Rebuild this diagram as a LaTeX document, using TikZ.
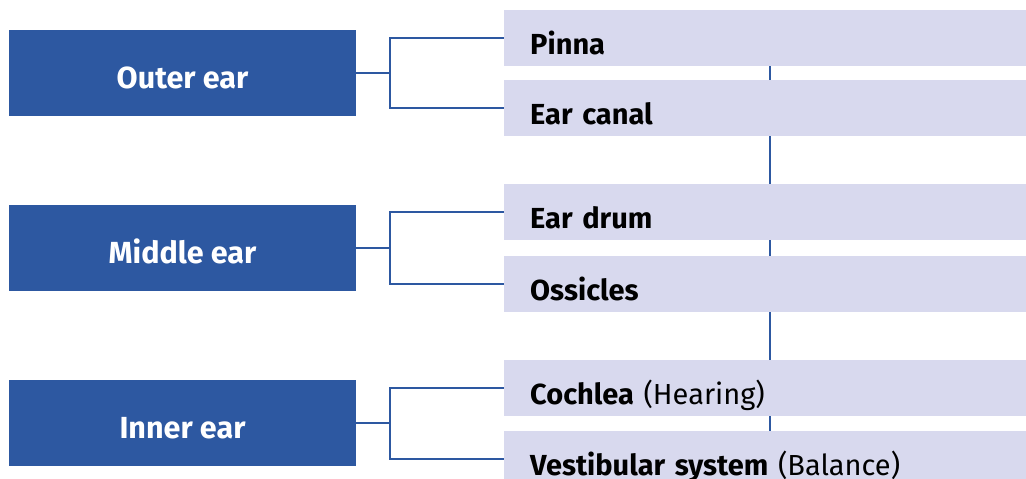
\documentclass[tikz,border=0pt]{standalone}
\usepackage{fontspec}
\setmainfont{Fira Sans}
\usepackage{tikz}
\usetikzlibrary{backgrounds}
\definecolor{earblue}{HTML}{2D58A1}
\definecolor{earlilac}{HTML}{D8D9EE}

\begin{document}
\begin{tikzpicture}[
  x=1pt,y=-1pt,
  every node/.style={font=\fontsize{29}{32}\selectfont},
  region/.style={fill=earblue,text=white,font=\fontsize{30.5}{33}\selectfont\bfseries,minimum width=347pt,inner sep=0pt,text height=58pt,text depth=28pt},
  part/.style={fill=earlilac,anchor=north west,inner xsep=26pt,inner ysep=0pt,text width=470pt,align=left,text height=44pt,text depth=12pt},
  link/.style={draw=earblue,line width=2pt}
]
  \clip (0,0) rectangle (1026,479);
  \node[region] (outer) at (182.5,73) {Outer ear};
  \node[region] (middle) at (182.5,248) {Middle ear};
  \node[region] (inner) at (182.5,423) {Inner ear};
  \node[part] (pinna) at (504,10) {\textbf{Pinna}};
  \node[part] (canal) at (504,80) {\textbf{Ear canal}};
  \node[part] (drum) at (504,184) {\textbf{Ear drum}};
  \node[part] (ossicles) at (504,256) {\textbf{Ossicles}};
  \node[part] (cochlea) at (504,360) {\textbf{Cochlea} (Hearing)};
  \node[part] (vestib) at (504,431) {\textbf{Vestibular system} (Balance)};
  % brackets
  \draw[link] (outer.east) -- ++(34,0) |- (pinna.west);
  \draw[link] (outer.east) -- ++(34,0) |- (canal.west);
  \draw[link] (middle.east) -- ++(34,0) |- (drum.west);
  \draw[link] (middle.east) -- ++(34,0) |- (ossicles.west);
  \draw[link] (inner.east) -- ++(34,0) |- (cochlea.west);
  \draw[link] (inner.east) -- ++(34,0) |- (vestib.west);
  % spine behind the parts
  \begin{scope}[on background layer]
    \draw[link] ([xshift=266pt]pinna.west) -- ([xshift=266pt]vestib.west);
  \end{scope}
\end{tikzpicture}
\end{document}
